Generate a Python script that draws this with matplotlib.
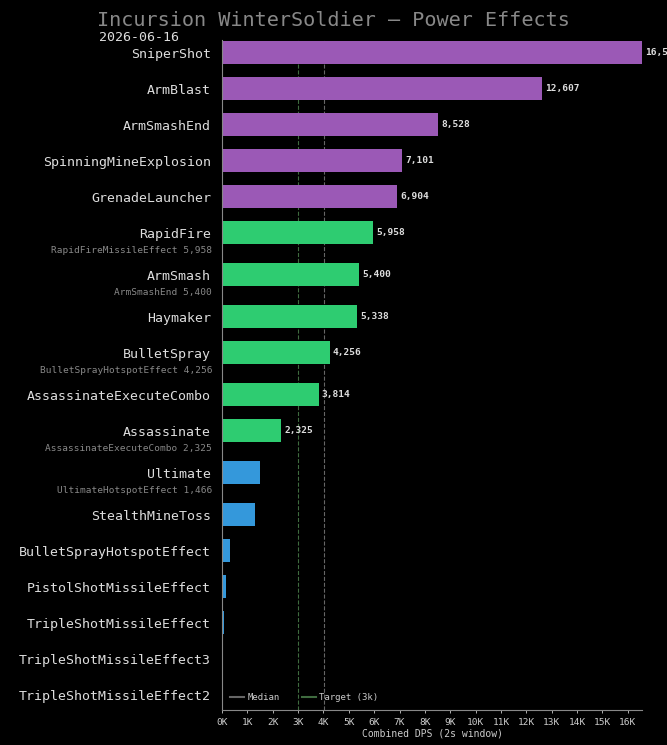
import matplotlib
matplotlib.use("Agg")
import matplotlib.pyplot as plt
from matplotlib.lines import Line2D
from matplotlib.ticker import FuncFormatter
import numpy as np

plt.rcParams['font.family'] = ['DejaVu Sans Mono']

powers = ["SniperShot", "ArmBlast", "ArmSmashEnd", "SpinningMineExplosion",
          "GrenadeLauncher", "RapidFire", "ArmSmash", "Haymaker", "BulletSpray",
          "AssassinateExecuteCombo", "Assassinate", "Ultimate", "StealthMineToss",
          "BulletSprayHotspotEffect", "PistolShotMissileEffect",
          "TripleShotMissileEffect", "TripleShotMissileEffect3",
          "TripleShotMissileEffect2"]
dps = [16560, 12607, 8528, 7101, 6904, 5958, 5400, 5338, 4256, 3814, 2325,
       1496, 1300, 310, 150, 70, 12, 10]
tier = ["purple"] * 5 + ["green"] * 6 + ["blue"] * 7
sublabels = ["", "", "", "", "", "RapidFireMissileEffect 5,958",
             "ArmSmashEnd 5,400", "", "BulletSprayHotspotEffect 4,256", "",
             "AssassinateExecuteCombo 2,325", "UltimateHotspotEffect 1,466",
             "", "", "", "", "", ""]
target = 3000

colors = {"purple": "#9b59b6", "green": "#2ecc71", "blue": "#3498db"}

# rows with a sub label get a bit more room underneath
ypos = []
y = 0.0
for s in sublabels:
    ypos.append(y)
    y += 1.0 + (0.1667 if s else 0)

fig = plt.figure(figsize=(6.67, 7.45), dpi=100, facecolor="black")
ax = fig.add_axes([222/667, 35/745, 420/667, 670/745], facecolor="black")

median = np.median(dps)
ax.axvline(target, color="#3f6b3f", ls="--", lw=0.8, zorder=1)
ax.axvline(median, color="#666666", ls="--", lw=0.8, zorder=1)

ax.barh(ypos, dps, height=0.64, color=[colors[t] for t in tier], zorder=2)

for yy, v in zip(ypos, dps):
    if v >= 2000:
        ax.text(v + 120, yy, f"{v:,}", va="center", ha="left", fontsize=6.8,
                color="#dddddd", fontweight="bold", zorder=3)

for yy, s in zip(ypos, sublabels):
    if s:
        ax.annotate(s, xy=(0, yy + 0.48), xycoords=("axes fraction", "data"),
                    xytext=(-10, 0), textcoords="offset pixels",
                    ha="right", va="center", fontsize=6.8, color="#888888",
                    annotation_clip=False)

ax.set_yticks(ypos)
ax.set_yticklabels(powers, fontsize=9.5, color="#dddddd")
ax.tick_params(axis="y", length=0, pad=7.8)
ax.set_ylim(ypos[-1] + 0.42, -0.36)

ax.set_xlim(0, max(dps))
ax.set_xticks(np.arange(0, 17000, 1000))
ax.xaxis.set_major_formatter(FuncFormatter(lambda x, p: f"{int(x/1000)}K"))
ax.tick_params(axis="x", labelsize=6.8, colors="#cccccc", length=2, width=0.6)
ax.set_xlabel("Combined DPS (2s window)", fontsize=7, color="#cccccc", labelpad=1.5)

for side in ["top", "right"]:
    ax.spines[side].set_visible(False)
for side in ["left", "bottom"]:
    ax.spines[side].set_color("#888888")
    ax.spines[side].set_linewidth(0.8)

handles = [Line2D([0], [0], color="#666666", lw=1.5),
           Line2D([0], [0], color="#3f6b3f", lw=1.5)]
ax.legend(handles, ["Median", "Target (3k)"], loc="lower left", ncol=2,
          frameon=False, fontsize=6.5, labelcolor="#cccccc",
          handlelength=1.5, handletextpad=0.4, columnspacing=2.5,
          bbox_to_anchor=(0.0, 0.0))

fig.text(0.5, 0.985, "Incursion WinterSoldier \u2014 Power Effects", ha="center",
         va="top", fontsize=14.5, color="#888888")
fig.text(99/667, 0.958, "2026-06-16", ha="left", va="top", fontsize=9.5,
         color="#dddddd")

fig.savefig("out.png", dpi=100, facecolor="black")
